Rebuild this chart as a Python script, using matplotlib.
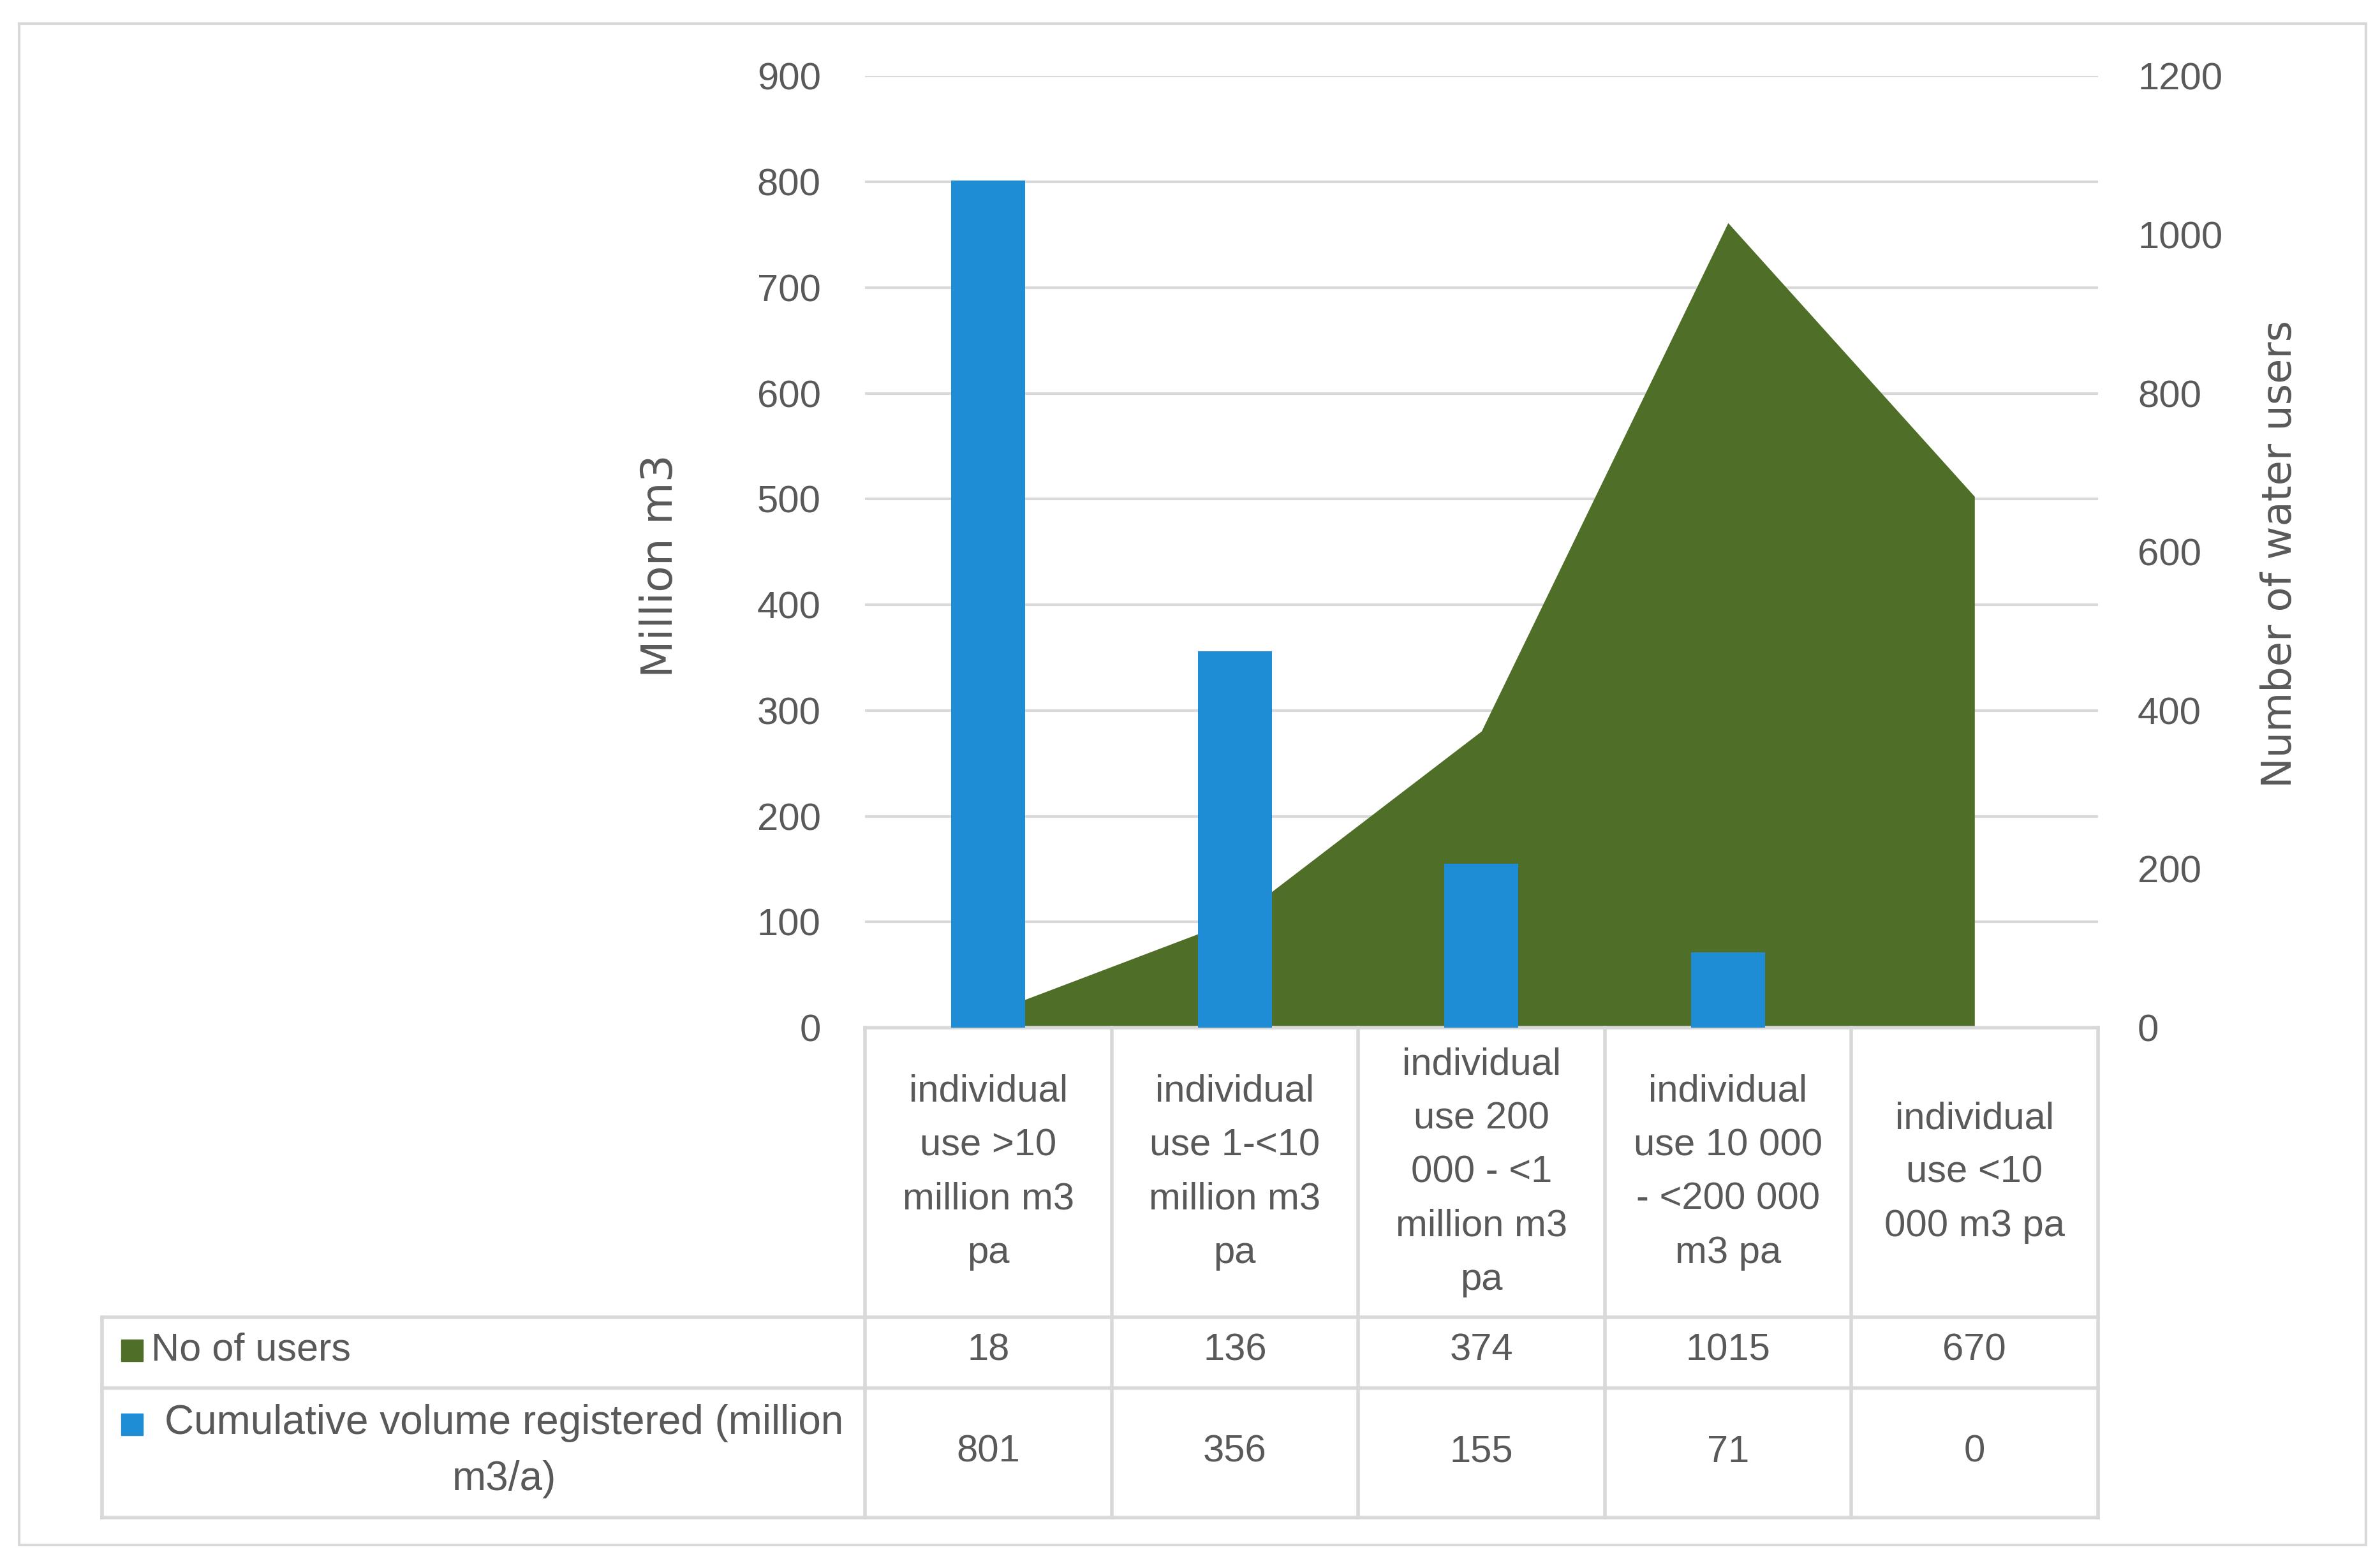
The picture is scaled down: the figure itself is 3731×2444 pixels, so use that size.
import matplotlib.pyplot as plt
from matplotlib import transforms
from matplotlib.patches import Rectangle

# data
categories = ['individual\nuse >10\nmillion m3\npa',
              'individual\nuse 1-<10\nmillion m3\npa',
              'individual\nuse 200\n000 - <1\nmillion m3\npa',
              'individual\nuse 10 000\n- <200 000\nm3 pa',
              'individual\nuse <10\n000 m3 pa']
no_of_users = [18, 136, 374, 1015, 670]
cum_volume = [801, 356, 155, 71, 0]
left_ticks = [0, 100, 200, 300, 400, 500, 600, 700, 800, 900]
right_ticks = [0, 200, 400, 600, 800, 1000, 1200]
row_labels = ['No of users', 'Cumulative volume registered (million\nm3/a)']

GREEN = '#4F6F28'
BLUE = '#1F8DD6'
TXT = '#595959'
GRID = '#D9D9D9'
FS = 43

plt.rcParams['font.family'] = ['Liberation Sans', 'DejaVu Sans']

fig = plt.figure(figsize=(37.31, 24.44), dpi=100)
fig.patches.append(Rectangle((0.008, 0.009), 0.986, 0.976, transform=fig.transFigure,
                             fill=False, ec='#D9D9D9', lw=3))

ax = fig.add_axes([0.3635, 0.3408, 0.5179, 0.6104])
ax2 = ax.twinx()
ax.set_zorder(ax2.get_zorder() + 1)   # bars over the area
ax.patch.set_visible(False)

x = list(range(len(categories)))
ax.set_xlim(-0.5, len(categories) - 0.5)
ax.set_ylim(0, 900)
ax2.set_ylim(0, 1200)

# gridlines live on the back axes so the area hides them
gt = transforms.blended_transform_factory(ax2.transAxes, ax.transData)
for v in left_ticks[1:]:
    ax2.plot([0, 1], [v, v], transform=gt, color=GRID, lw=3, zorder=0)

ax2.fill_between(x, no_of_users, color=GREEN, lw=0, zorder=2)
ax.bar(x, cum_volume, width=0.3, color=BLUE, zorder=3)

for a in (ax, ax2):
    for s in a.spines.values():
        s.set_visible(False)
ax.set_xticks([])
ax.set_yticks(left_ticks)
ax.tick_params(axis='y', length=0, pad=50, labelsize=FS, labelcolor=TXT)
ax2.set_yticks(right_ticks)
ax2.tick_params(axis='y', length=0, pad=45, labelsize=FS, labelcolor=TXT)

ax.text(-0.166, 0.485, 'Million m3', transform=ax.transAxes, rotation=90,
        ha='center', va='center', fontsize=49, color=TXT, family='DejaVu Sans')
ax.text(1.148, 0.498, 'Number of water users', transform=ax.transAxes, rotation=90,
        ha='center', va='center', fontsize=46, color=TXT, family='DejaVu Sans')

# data table under the plot
tt = transforms.blended_transform_factory(ax.transData, ax.transAxes)
y_head, y_r1, y_r2 = -0.304, -0.379, -0.515
x_lab = -0.619
line_kw = dict(color=GRID, lw=4, clip_on=False)
ax.plot([0, 1], [0, 0], transform=ax.transAxes, **line_kw)
for yy in (y_head, y_r1, y_r2):
    ax.plot([x_lab, 1], [yy, yy], transform=ax.transAxes, **line_kw)
for b in [i - 0.5 for i in x] + [x[-1] + 0.5]:
    ax.plot([b, b], [0, y_r2], transform=tt, **line_kw)
ax.plot([x_lab, x_lab], [y_head, y_r2], transform=ax.transAxes, **line_kw)

for i, cat in enumerate(categories):
    ax.text(i, y_head / 2, cat, transform=tt, ha='center', va='center',
            fontsize=FS, color=TXT, linespacing=1.68)
    ax.text(i, -0.339, str(no_of_users[i]), transform=tt, ha='center', va='center',
            fontsize=FS, color=TXT)
    ax.text(i, -0.446, str(cum_volume[i]), transform=tt, ha='center', va='center',
            fontsize=FS, color=TXT)

ax.plot([-0.595], [-0.339], marker='s', ms=24, color=GREEN, transform=ax.transAxes, clip_on=False)
ax.text(-0.579, -0.339, row_labels[0], transform=ax.transAxes, ha='left', va='center',
        fontsize=FS + 1, color=TXT)
ax.plot([-0.595], [-0.417], marker='s', ms=24, color=BLUE, transform=ax.transAxes, clip_on=False)
ax.text(-0.293, -0.445, row_labels[1], transform=ax.transAxes, ha='center', va='center',
        fontsize=FS + 3, color=TXT, linespacing=1.6)

fig.savefig('out.png', dpi=100)
